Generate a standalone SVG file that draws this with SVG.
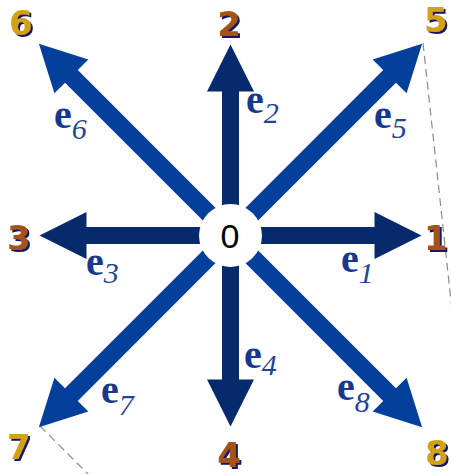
<svg xmlns="http://www.w3.org/2000/svg" width="451" height="474" viewBox="0 0 451 474">
<style>
.ax{fill:#062a6b}
.dg{fill:#033f9b}
.dash{stroke:#8a8a8a;stroke-width:1.2;stroke-dasharray:8 5;fill:none}
.e{font-family:"Liberation Serif","Times New Roman",serif;font-weight:bold;font-size:40px;fill:#17388c}
.sub{font-family:"Liberation Serif","Times New Roman",serif;font-weight:normal;font-style:italic;font-size:30px;fill:#1f4598}
.num{font-family:"DejaVu Sans",Verdana,sans-serif;font-weight:bold;font-size:34px;filter:url(#shadow)}
.gold{fill:#d2a112}
.brown{fill:#a45414}
.zero{font-family:"Liberation Sans",Arial,sans-serif;font-size:34px;fill:#000}
</style>
<defs>
<filter id="shadow" x="-20%" y="-20%" width="150%" height="150%">
<feFlood flood-color="#14146a" result="c"/>
<feComposite in="c" in2="SourceAlpha" operator="in" result="s"/>
<feOffset in="s" dx="2" dy="2" result="o"/>
<feMerge><feMergeNode in="o"/><feMergeNode in="SourceGraphic"/></feMerge>
</filter>
<path id="axArrow" d="M0,-8.5 L144,-8.5 L144,-23.5 L191,0 L144,23.5 L144,8.5 L0,8.5 Z"/>
<path id="dgArrow" d="M0,-9 L225,-9 L225,-24 L271,0 L225,24 L225,9 L0,9 Z"/>
</defs>
<rect width="451" height="474" fill="#fff"/>
<g id="connectors">
<line class="dash" x1="423" y1="43" x2="452" y2="310"/>
<line class="dash" x1="40" y1="426" x2="89" y2="475"/>
<g transform="translate(230.5,235.5)">
<use href="#axArrow" class="ax" transform="rotate(0)"/>
<use href="#axArrow" class="ax" transform="rotate(-90)"/>
<use href="#axArrow" class="ax" transform="rotate(180)"/>
<use href="#axArrow" class="ax" transform="rotate(90)"/>
<use href="#dgArrow" class="dg" transform="rotate(-45)"/>
<use href="#dgArrow" class="dg" transform="rotate(-135)"/>
<use href="#dgArrow" class="dg" transform="rotate(135)"/>
<use href="#dgArrow" class="dg" transform="rotate(45)"/>
</g>
<text class="e" x="341" y="272">e<tspan class="sub" dy="11">1</tspan></text>
<text class="e" x="246" y="113">e<tspan class="sub" dy="10">2</tspan></text>
<text class="e" x="86" y="275">e<tspan class="sub" dy="8">3</tspan></text>
<text class="e" x="244" y="368">e<tspan class="sub" dy="7">4</tspan></text>
<text class="e" x="374" y="128">e<tspan class="sub" dy="10">5</tspan></text>
<text class="e" x="54" y="128">e<tspan class="sub" dy="11">6</tspan></text>
<text class="e" x="101" y="403">e<tspan class="sub" dy="12">7</tspan></text>
<text class="e" x="337" y="400">e<tspan class="sub" dy="12">8</tspan></text>
</g>
<g id="node0">
<circle cx="230.5" cy="235.5" r="31.5" fill="#fff"/>
<text class="zero" x="230" y="248" text-anchor="middle">0</text>
</g>
<g id="node1"><text class="num brown" x="424" y="250">1</text></g>
<g id="node2"><text class="num brown" x="229" y="36" text-anchor="middle">2</text></g>
<g id="node3"><text class="num brown" x="7" y="250">3</text></g>
<g id="node4"><text class="num brown" x="229" y="467" text-anchor="middle">4</text></g>
<g id="node5"><text class="num gold" x="424" y="32">5</text></g>
<g id="node6"><text class="num gold" x="9" y="35">6</text></g>
<g id="node7"><text class="num gold" x="7" y="459">7</text></g>
<g id="node8"><text class="num gold" x="425" y="465">8</text></g>
</svg>
